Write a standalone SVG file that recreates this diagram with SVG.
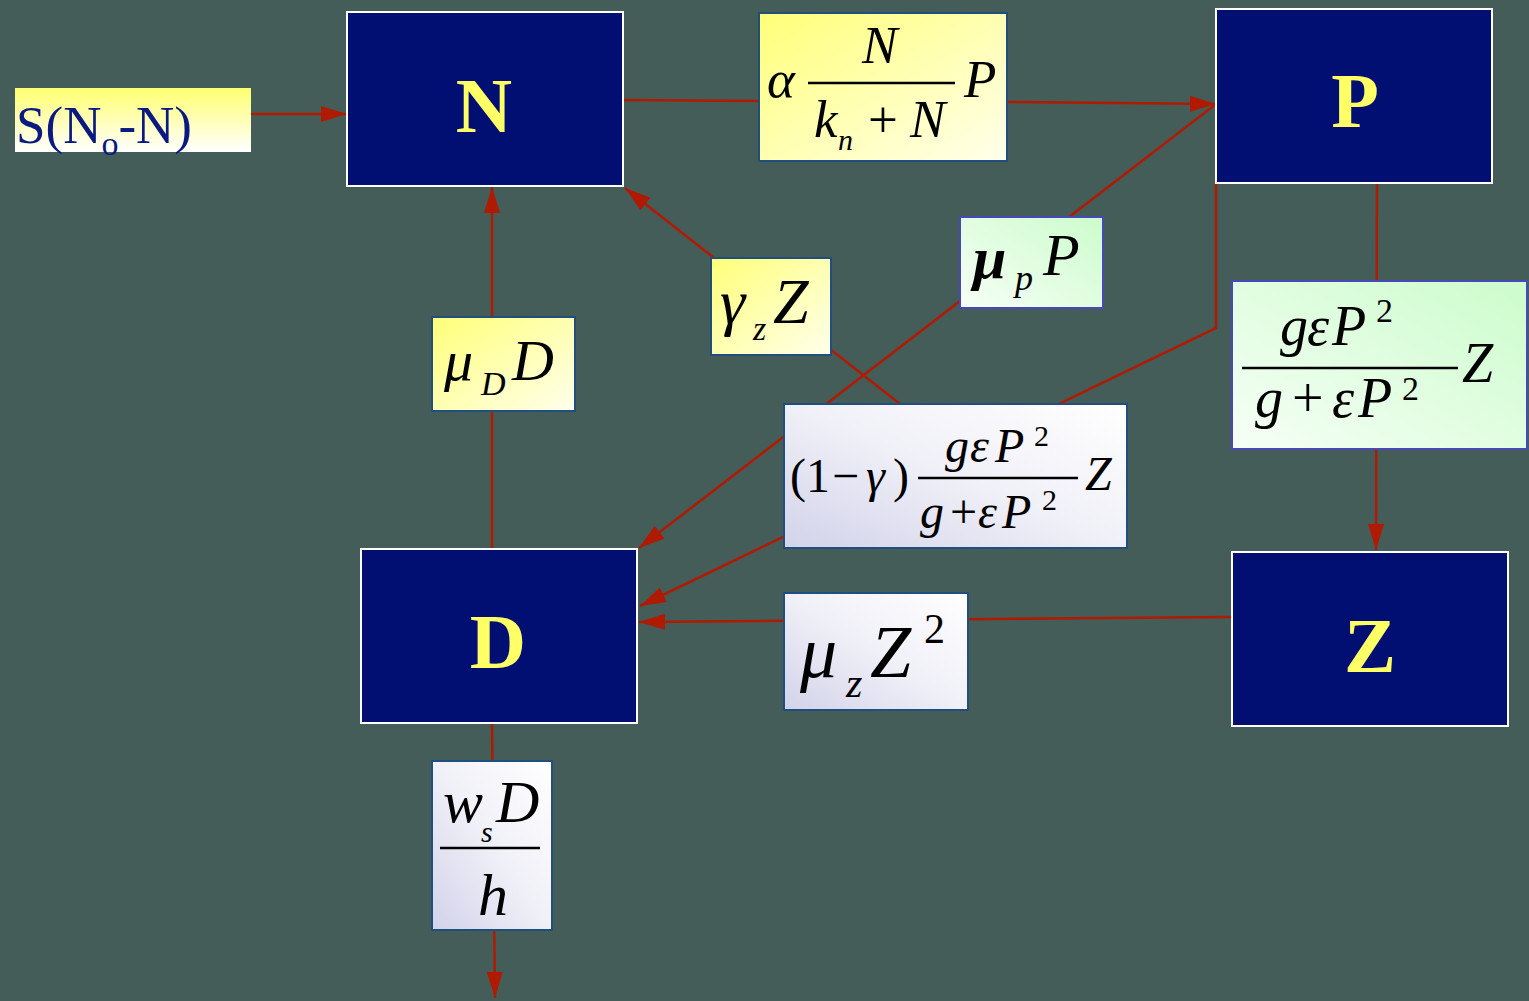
<svg xmlns="http://www.w3.org/2000/svg" width="1529" height="1001" viewBox="0 0 1529 1001">
<style>
.node{fill:#020F72;stroke:#FFFFFF;stroke-width:2}
.nl{font-family:"Liberation Serif",serif;font-weight:bold;font-size:78px;fill:#FFFF66;text-anchor:middle}
.conn{stroke:#B01A00;stroke-width:2.5;fill:none}
.m{font-family:"Liberation Serif",serif;font-style:italic;fill:#000000}
.u{font-style:normal}
.bar{stroke:#000000;stroke-width:2.5}
.by{stroke:#1F4E7F;stroke-width:2}
.bg{stroke:#4848B8;stroke-width:2}
</style>
<defs>
<marker id="ah" viewBox="0 0 26 16" refX="26" refY="8" markerWidth="26" markerHeight="16" orient="auto" markerUnits="userSpaceOnUse">
<path d="M0,0 L26,8 L0,16 z" fill="#B01A00"/>
</marker>
<linearGradient id="gs" x1="0" y1="0" x2="0" y2="1"><stop offset="0" stop-color="#FFFF70"/><stop offset="1" stop-color="#FFFFFF"/></linearGradient>
<linearGradient id="gy" x1="0" y1="0" x2="1" y2="1"><stop offset="0" stop-color="#FFFF78"/><stop offset="1" stop-color="#FFFFEC"/></linearGradient>
<linearGradient id="gg" x1="1" y1="0" x2="0" y2="1"><stop offset="0" stop-color="#CCFCCC"/><stop offset="1" stop-color="#F6FFF6"/></linearGradient>
<linearGradient id="gl" x1="1" y1="0" x2="0" y2="1"><stop offset="0" stop-color="#FFFFFF"/><stop offset="0.5" stop-color="#F0F0F8"/><stop offset="1" stop-color="#D2D2EA"/></linearGradient>
</defs>
<rect width="1529" height="1001" fill="#455D59"/>
<g id="connectors">
<line class="conn" x1="251" y1="114" x2="347" y2="114" marker-end="url(#ah)"/>
<line class="conn" x1="623" y1="100" x2="759" y2="101"/>
<line class="conn" x1="1007" y1="102" x2="1216" y2="104" marker-end="url(#ah)"/>
<line class="conn" x1="1216" y1="104" x2="639" y2="548" marker-end="url(#ah)"/>
<line class="conn" x1="900" y1="404" x2="625" y2="188" marker-end="url(#ah)"/>
<polyline class="conn" points="1216,183 1216,328 640,606" marker-end="url(#ah)"/>
<line class="conn" x1="1232" y1="617" x2="639" y2="622" marker-end="url(#ah)"/>
<line class="conn" x1="1377" y1="183" x2="1376" y2="550" marker-end="url(#ah)"/>
<line class="conn" x1="492" y1="549" x2="492" y2="187" marker-end="url(#ah)"/>
<line class="conn" x1="492" y1="723" x2="495" y2="998" marker-end="url(#ah)"/>
</g>
<g id="node-N"><rect class="node" x="347" y="12" width="276" height="174"/><text class="nl" x="484" y="132">N</text></g>
<g id="node-P"><rect class="node" x="1216" y="9" width="276" height="174"/><text class="nl" x="1355" y="127">P</text></g>
<g id="node-D"><rect class="node" x="361" y="549" width="276" height="174"/><text class="nl" x="498" y="668">D</text></g>
<g id="node-Z"><rect class="node" x="1232" y="552" width="276" height="174"/><text class="nl" x="1370" y="672">Z</text></g>
<g id="label-supply">
<rect x="15" y="88" width="236" height="64" fill="url(#gs)"/>
<text font-family="Liberation Serif,serif" fill="#0A1A80" font-size="53"><tspan x="16" y="143">S(N</tspan><tspan font-size="34" y="155">o</tspan><tspan y="143">-N)</tspan></text>
</g>
<g id="label-uptake">
<rect class="by" x="759" y="13" width="248" height="148" fill="url(#gy)"/>
<text class="m" font-size="53"><tspan x="767" y="97">α</tspan><tspan x="862" y="63">N</tspan><tspan x="814" y="137">k</tspan><tspan x="838" y="150" font-size="30">n</tspan><tspan class="u" x="868" y="137">+</tspan><tspan x="910" y="137">N</tspan><tspan x="964" y="97">P</tspan></text>
<line class="bar" x1="808" y1="83" x2="955" y2="83"/>
</g>
<g id="label-gammaZ">
<rect class="by" x="711" y="258" width="120" height="97" fill="url(#gy)"/>
<text class="m" font-size="64"><tspan x="720" y="323">γ</tspan><tspan x="753" y="340" font-size="34">z</tspan><tspan x="773" y="323">Z</tspan></text>
</g>
<g id="label-muP">
<rect class="bg" x="960" y="217" width="143" height="91" fill="url(#gg)"/>
<text class="m" font-size="60"><tspan x="973" y="278" font-weight="bold">μ</tspan><tspan x="1015" y="290" font-size="36">p</tspan><tspan x="1043" y="275">P</tspan></text>
</g>
<g id="label-muD">
<rect class="by" x="432" y="317" width="143" height="94" fill="url(#gy)"/>
<text class="m" font-size="58"><tspan x="444" y="380">μ</tspan><tspan x="481" y="395" font-size="34">D</tspan><tspan x="512" y="380">D</tspan></text>
</g>
<g id="label-egestion">
<rect class="by" x="784" y="404" width="343" height="144" fill="url(#gl)"/>
<text class="m" font-size="48"><tspan class="u" x="790" y="492">(1</tspan><tspan class="u" x="832" y="492">−</tspan><tspan x="866" y="492">γ</tspan><tspan class="u" x="893" y="492">)</tspan><tspan x="945" y="462">g</tspan><tspan x="970" y="462">ε</tspan><tspan x="995" y="462">P</tspan><tspan class="u" x="1034" y="446" font-size="30">2</tspan><tspan x="920" y="528">g</tspan><tspan class="u" x="950" y="528">+</tspan><tspan x="978" y="528">ε</tspan><tspan x="1002" y="528">P</tspan><tspan class="u" x="1042" y="510" font-size="30">2</tspan><tspan x="1085" y="490">Z</tspan></text>
<line class="bar" x1="918" y1="478" x2="1078" y2="478"/>
</g>
<g id="label-grazing">
<rect class="bg" x="1232" y="281" width="295" height="168" fill="url(#gg)"/>
<text class="m" font-size="56"><tspan x="1280" y="345">g</tspan><tspan x="1307" y="345">ε</tspan><tspan x="1332" y="345">P</tspan><tspan class="u" x="1376" y="322" font-size="34">2</tspan><tspan x="1255" y="417">g</tspan><tspan class="u" x="1292" y="417">+</tspan><tspan x="1332" y="417">ε</tspan><tspan x="1358" y="417">P</tspan><tspan class="u" x="1402" y="400" font-size="34">2</tspan><tspan x="1462" y="382">Z</tspan></text>
<line class="bar" x1="1242" y1="368" x2="1458" y2="368"/>
</g>
<g id="label-muZ">
<rect class="by" x="784" y="593" width="184" height="117" fill="url(#gl)"/>
<text class="m" font-size="74"><tspan x="800" y="677">μ</tspan><tspan x="846" y="697" font-size="42">z</tspan><tspan x="870" y="677">Z</tspan><tspan class="u" x="924" y="643" font-size="42">2</tspan></text>
</g>
<g id="label-sinking">
<rect class="by" x="432" y="761" width="120" height="169" fill="url(#gl)"/>
<text class="m" font-size="60"><tspan x="443" y="822">w</tspan><tspan x="481" y="842" font-size="30">s</tspan><tspan x="496" y="822">D</tspan><tspan x="478" y="915">h</tspan></text>
<line class="bar" x1="440" y1="848" x2="540" y2="848"/>
</g>
</svg>
